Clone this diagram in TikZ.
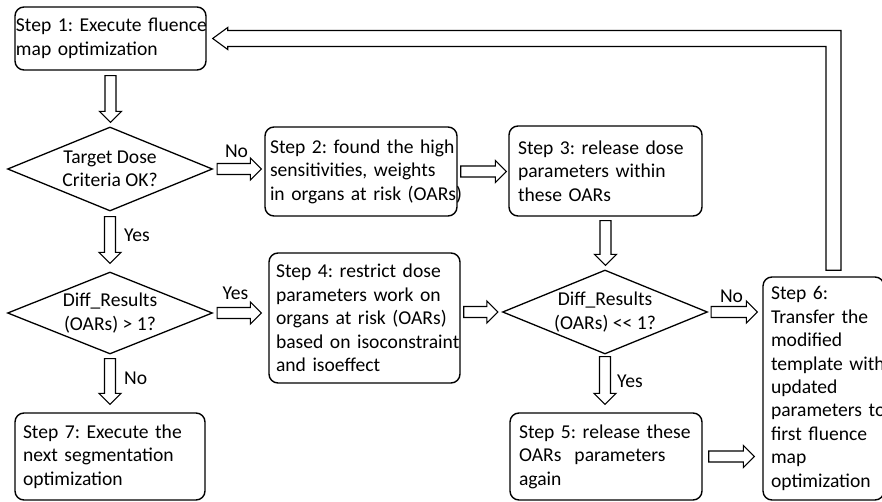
\documentclass[tikz,border=0pt]{standalone}
\usepackage{fontspec}
\setmainfont{Carlito}
\usetikzlibrary{shapes.geometric,calc}
\frenchspacing
\def\arSh{5.5pt}
\def\arHw{11pt}
\def\arHl{11pt}
% horizontal hollow block arrow: from, to, start gap, end gap
\newcommand\harr[4]{\draw[blockarrow] let \p1=(#1), \p2=(#2) in
  (\x1+#3,\y1+\arSh) -- (\x2-#4-\arHl,\y1+\arSh) -- (\x2-#4-\arHl,\y1+\arHw) --
  (\x2-#4,\y1) -- (\x2-#4-\arHl,\y1-\arHw) -- (\x2-#4-\arHl,\y1-\arSh) --
  (\x1+#3,\y1-\arSh) -- cycle;}
% downward hollow block arrow
\newcommand\varr[4]{\draw[blockarrow] let \p1=(#1), \p2=(#2) in
  (\x1-\arSh,\y1-#3) -- (\x1-\arSh,\y2+#4+\arHl) -- (\x1-\arHw,\y2+#4+\arHl) --
  (\x1,\y2+#4) -- (\x1+\arHw,\y2+#4+\arHl) -- (\x1+\arSh,\y2+#4+\arHl) --
  (\x1+\arSh,\y1-#3) -- cycle;}
\newcommand\tl[1]{\mbox{#1}}
\begin{document}
\begin{tikzpicture}[x=1pt,y=-1pt,
  font=\fontsize{19.6}{23.4}\selectfont,
  box/.style={draw, rounded corners=9pt, line width=1.4pt, align=left, inner ysep=0pt},
  dia/.style={draw, diamond, line width=1.3pt, inner sep=0pt},
  blockarrow/.style={draw, line width=1.1pt, fill=white},
  lab/.style={anchor=base west, inner sep=0pt}]
\useasboundingbox (0,0) rectangle (882,502);
\clip (0,0) rectangle (882,502);

\node[box, inner xsep=1pt, text width=189pt, minimum height=63pt] (step1) at (110.5,38.5)
  {\tl{Step 1: Execute fluence}\\\tl{map optimization}};
\node[box, inner xsep=5pt, text width=182pt, minimum height=89pt] (step2) at (361,171.5)
  {\tl{Step 2: found the high}\\\tl{sensitivities, weights}\\\tl{in organs at risk (OARs)}};
\node[box, inner xsep=9pt, text width=175pt, minimum height=90pt] (step3) at (605.5,171)
  {\tl{Step 3: release dose}\\\tl{parameters within}\\\tl{these OARs}};
\node[box, inner xsep=7pt, text width=177pt, minimum height=130pt] (step4) at (364.5,318)
  {\tl{Step 4: restrict dose}\\\tl{parameters work on}\\\tl{organs at risk (OARs)}\\\tl{based on isoconstraint}\\\tl{and isoeffect}};
\node[box, inner xsep=9pt, text width=174pt, minimum height=87pt] (step5) at (606,456.5)
  {\tl{Step 5: release these}\\\tl{OARs\ \ parameters}\\\tl{again}};
\node[box, inner xsep=8pt, text width=105pt, minimum height=223pt] (step6) at (823.5,388.5)
  {\tl{Step 6:}\\\tl{Transfer the}\\\tl{modified}\\\tl{template with}\\\tl{updated}\\\tl{parameters to}\\\tl{first fluence}\\\tl{map}\\\tl{optimization}};
\node[box, inner xsep=8pt, text width=174pt, minimum height=87pt] (step7) at (110,456.5)
  {\tl{Step 7: Execute the}\\\tl{next segmentation}\\\tl{optimization}};

\node[dia, minimum width=205pt, minimum height=84pt,
  label={[align=center]center:Target Dose\\Criteria OK?}] (d1) at (110,169) {};
\node[dia, minimum width=205pt, minimum height=82pt,
  label={[align=center]center:Diff\_Results\\(OARs) > 1?}] (d2) at (110,313) {};
\node[dia, minimum width=205pt, minimum height=84pt,
  label={[align=center]center:Diff\_Results\\(OARs) <{}< 1?}] (d3) at (605,312) {};

\varr{step1.south}{d1.north}{5pt}{4pt}
\varr{d1.south}{d2.north}{5pt}{8pt}
\varr{d2.south}{step7.north}{4pt}{8pt}
\harr{d1.east}{step2.west}{4pt}{3pt}
\harr{d2.east}{step4.west}{4pt}{7pt}
\harr{step2.east}{step3.west}{3pt}{2pt}
\harr{step4.east |- d3.west}{d3.west}{3pt}{4pt}
\varr{step3.south}{d3.north}{4pt}{4pt}
\harr{d3.east}{step6.west}{3pt}{5pt}
\varr{d3.south}{step5.north}{2pt}{8pt}
\harr{step5.east}{step6.west}{6pt}{8pt}

\draw[blockarrow] let \p1=($(step6.north)+(10,0)$), \p2=(step1.east) in
  (\x1-7.5pt,\y1+6pt) -- (\x1-7.5pt,\y2-8pt) -- (\x2+21pt,\y2-8pt) --
  (\x2+21pt,\y2-11pt) -- (\x2+6pt,\y2) -- (\x2+21pt,\y2+11pt) --
  (\x2+21pt,\y2+8pt) -- (\x1+7.5pt,\y2+8pt) -- (\x1+7.5pt,\y1+6pt) -- cycle;

\node[lab, anchor=base] (l1) at (236.5,158) {No};
\node[lab] (l2) at (124,242) {Yes};
\node[lab, anchor=base] (l3) at (235.5,299) {Yes};
\node[lab] (l4) at (124,384) {No};
\node[lab, anchor=base] (l5) at (731.5,302) {No};
\node[lab] (l6) at (617,387) {Yes};
\end{tikzpicture}
\end{document}
